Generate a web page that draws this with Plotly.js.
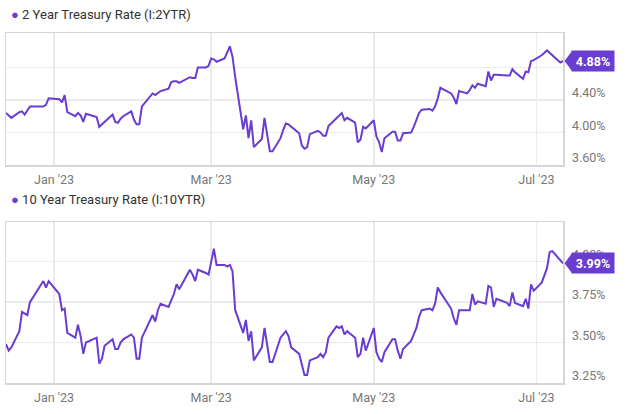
<!DOCTYPE html>
<html>
<head>
<meta charset="utf-8">
<script src="https://cdn.plot.ly/plotly-3.0.1.min.js"></script>
<style>
html,body{margin:0;padding:0;background:#fff;}
#chart{width:640px;height:414px;}
</style>
</head>
<body>
<div id="chart"></div>
<script>
// ---- data (trading days, Dec 2022 - Jul 2023) ----
const dates = [
 '2022-12-14','2022-12-15','2022-12-16','2022-12-19','2022-12-20','2022-12-21','2022-12-22','2022-12-23','2022-12-27','2022-12-28','2022-12-29','2022-12-30',
 '2023-01-03','2023-01-04','2023-01-05','2023-01-06','2023-01-09','2023-01-10','2023-01-11','2023-01-12','2023-01-13','2023-01-17','2023-01-18','2023-01-19','2023-01-20','2023-01-23','2023-01-24','2023-01-25','2023-01-26','2023-01-27','2023-01-30','2023-01-31',
 '2023-02-01','2023-02-02','2023-02-03','2023-02-06','2023-02-07','2023-02-08','2023-02-09','2023-02-10','2023-02-13','2023-02-14','2023-02-15','2023-02-16','2023-02-17','2023-02-21','2023-02-22','2023-02-23','2023-02-24','2023-02-27','2023-02-28',
 '2023-03-01','2023-03-02','2023-03-03','2023-03-06','2023-03-07','2023-03-08','2023-03-09','2023-03-10','2023-03-13','2023-03-14','2023-03-15','2023-03-16','2023-03-17','2023-03-20','2023-03-21','2023-03-22','2023-03-23','2023-03-24','2023-03-27','2023-03-28','2023-03-29','2023-03-30','2023-03-31',
 '2023-04-03','2023-04-04','2023-04-05','2023-04-06','2023-04-07','2023-04-10','2023-04-11','2023-04-12','2023-04-13','2023-04-14','2023-04-17','2023-04-18','2023-04-19','2023-04-20','2023-04-21','2023-04-24','2023-04-25','2023-04-26','2023-04-27','2023-04-28',
 '2023-05-01','2023-05-02','2023-05-03','2023-05-04','2023-05-05','2023-05-08','2023-05-09','2023-05-10','2023-05-11','2023-05-12','2023-05-15','2023-05-16','2023-05-17','2023-05-18','2023-05-19','2023-05-22','2023-05-23','2023-05-24','2023-05-25','2023-05-26','2023-05-30','2023-05-31',
 '2023-06-01','2023-06-02','2023-06-05','2023-06-06','2023-06-07','2023-06-08','2023-06-09','2023-06-12','2023-06-13','2023-06-14','2023-06-15','2023-06-16','2023-06-20','2023-06-21','2023-06-22','2023-06-23','2023-06-26','2023-06-27','2023-06-28','2023-06-29','2023-06-30',
 '2023-07-03','2023-07-05','2023-07-06','2023-07-07','2023-07-10','2023-07-11'
];

const twoYear = [
 4.24,4.21,4.18,4.25,4.26,4.22,4.27,4.32,4.32,4.32,4.34,4.42,
 4.41,4.37,4.46,4.25,4.20,4.24,4.21,4.13,4.23,4.19,4.07,4.10,4.14,4.22,4.13,4.12,4.17,4.20,4.26,4.16,
 4.10,4.10,4.32,4.44,4.48,4.46,4.49,4.51,4.54,4.62,4.63,4.63,4.61,4.68,4.67,4.67,4.80,4.80,4.82,
 4.91,4.90,4.87,4.91,4.98,5.06,4.93,4.68,4.04,4.21,3.93,4.15,3.82,3.92,4.18,3.97,3.77,3.77,3.93,4.03,4.11,4.10,4.07,
 3.99,3.84,3.80,3.82,3.98,4.02,4.00,3.96,3.96,4.08,4.17,4.21,4.24,4.15,4.18,4.12,3.88,3.91,4.07,4.05,
 4.15,3.95,3.88,3.76,3.93,4.01,4.01,3.90,3.90,3.99,4.00,4.07,4.15,4.24,4.28,4.29,4.27,4.32,4.42,4.55,4.48,4.43,
 4.35,4.51,4.48,4.52,4.58,4.55,4.60,4.57,4.75,4.64,4.71,4.71,4.70,4.70,4.78,4.74,4.66,4.75,4.74,4.88,4.89,
 4.95,5.01,4.98,4.94,4.86,4.88
];

const tenYear = [
 3.49,3.45,3.47,3.57,3.69,3.68,3.67,3.75,3.85,3.88,3.84,3.88,
 3.80,3.70,3.71,3.56,3.53,3.61,3.54,3.43,3.50,3.53,3.37,3.40,3.48,3.52,3.46,3.46,3.50,3.52,3.55,3.53,
 3.40,3.40,3.53,3.64,3.67,3.63,3.70,3.74,3.72,3.76,3.80,3.86,3.83,3.95,3.92,3.88,3.95,3.93,3.92,
 4.00,4.08,3.98,3.98,3.97,3.98,3.94,3.70,3.56,3.64,3.51,3.57,3.39,3.47,3.59,3.48,3.38,3.38,3.53,3.55,3.57,3.54,3.47,
 3.43,3.36,3.30,3.30,3.39,3.41,3.43,3.41,3.44,3.53,3.60,3.59,3.60,3.55,3.57,3.53,3.41,3.43,3.53,3.45,
 3.59,3.44,3.40,3.38,3.44,3.52,3.52,3.45,3.40,3.46,3.51,3.55,3.59,3.66,3.70,3.71,3.70,3.74,3.84,3.81,3.71,3.65,
 3.61,3.70,3.70,3.70,3.80,3.735,3.755,3.74,3.85,3.84,3.72,3.77,3.745,3.725,3.81,3.745,3.725,3.77,3.71,3.86,3.82,
 3.87,3.96,4.06,4.065,4.01,3.99
];

const seriesNames = ['2 Year Treasury Rate (I:2YTR)', '10 Year Treasury Rate (I:10YTR)'];
const xTickVals = ['2023-01-01','2023-03-01','2023-05-01','2023-07-01'];
const yTicks2Y = [3.60, 4.00, 4.40, 4.80];
const yTicks10Y = [3.25, 3.50, 3.75, 4.00];

// ---- style / geometry ----
const W = 640, H = 414;
const purple = '#6a3dd1';
const gridC = '#ebebeb';
const lineC = '#d6d6d6';
const tickFont = {family: 'Roboto, sans-serif', size: 12.5, color: '#777777'};

const xDom = [6 / W, 563 / W];
const y1Px = [33, 165];
const y2Px = [222, 383];
const y1Dom = [1 - y1Px[1] / H, 1 - y1Px[0] / H];
const y2Dom = [1 - y2Px[1] / H, 1 - y2Px[0] / H];
const y1Range = [3.60, 5.224];
const y2Range = [3.25, 4.245];
const xRange = [dates[0], dates[dates.length - 1]];

function xAxis(anchor) {
  return {
    domain: xDom, anchor: anchor, type: 'date', range: xRange,
    tickvals: xTickVals, tickformat: "%b '%y", ticks: '',
    showgrid: true, gridcolor: gridC, gridwidth: 1.5,
    showline: true, mirror: true, linecolor: lineC, linewidth: 1.5,
    zeroline: false, tickfont: tickFont, ticklabelstandoff: 2, fixedrange: true
  };
}
function yAxis(anchor, dom, range, vals) {
  return {
    domain: dom, anchor: anchor, side: 'right', range: range,
    tickmode: 'array', tickvals: vals, ticktext: vals.map(v => v.toFixed(2) + '%'), ticks: '',
    showgrid: true, gridcolor: gridC, gridwidth: 1.5,
    showline: true, mirror: true, linecolor: lineC, linewidth: 1.5,
    zeroline: false, tickfont: tickFont, ticklabelshift: -7, ticklabelstandoff: 5, fixedrange: true
  };
}

const traces = [
  {x: dates, y: twoYear, xaxis: 'x', yaxis: 'y', type: 'scatter', mode: 'lines',
   line: {color: purple, width: 2}, name: seriesNames[0], hoverinfo: 'skip'},
  {x: dates, y: tenYear, xaxis: 'x2', yaxis: 'y2', type: 'scatter', mode: 'lines',
   line: {color: purple, width: 2}, name: seriesNames[1], hoverinfo: 'skip'}
];

function badge(values, yref, domPx, range) {
  const last = values[values.length - 1];
  const pxPerUnit = (domPx[1] - domPx[0]) / (range[1] - range[0]);
  const dy = 10 / pxPerUnit;
  const tip = 564.5 / W, base = 571 / W;
  return {
    shape: {type: 'path', xref: 'paper', yref: yref, fillcolor: purple, line: {width: 0}, layer: 'above',
      path: `M ${tip},${last} L ${base + 1 / W},${last + dy} L ${base + 1 / W},${last - dy} Z`},
    ann: {xref: 'paper', yref: yref, x: base, y: last, xanchor: 'left', yanchor: 'middle',
      showarrow: false, text: '<b>' + last.toFixed(2) + '%</b>', bgcolor: purple,
      width: 40, height: 18, borderpad: 1, align: 'center',
      font: {family: 'Roboto, sans-serif', size: 12.5, color: '#ffffff'}}
  };
}
const b1 = badge(twoYear, 'y', y1Px, y1Range);
const b2 = badge(tenYear, 'y2', y2Px, y2Range);

function legendAnn(name, yPx) {
  return {xref: 'paper', yref: 'paper', x: 9 / W, y: 1 - yPx / H, xanchor: 'left', yanchor: 'middle',
    showarrow: false, align: 'left',
    text: '<span style="color:' + purple + ';font-size:13px">●</span> ' + name,
    font: {family: 'Roboto, sans-serif', size: 13, color: '#333333'}};
}

const layout = {
  width: W, height: H,
  margin: {l: 0, r: 0, t: 0, b: 0},
  paper_bgcolor: '#ffffff', plot_bgcolor: '#ffffff',
  showlegend: false,
  font: {family: 'Roboto, sans-serif'},
  xaxis: xAxis('y'),
  yaxis: yAxis('x', y1Dom, y1Range, yTicks2Y),
  xaxis2: xAxis('y2'),
  yaxis2: yAxis('x2', y2Dom, y2Range, yTicks10Y),
  shapes: [b1.shape, b2.shape],
  annotations: [legendAnn(seriesNames[0], 14), legendAnn(seriesNames[1], 200), b1.ann, b2.ann]
};

Plotly.newPlot('chart', traces, layout, {staticPlot: true, displayModeBar: false});
</script>
</body>
</html>
